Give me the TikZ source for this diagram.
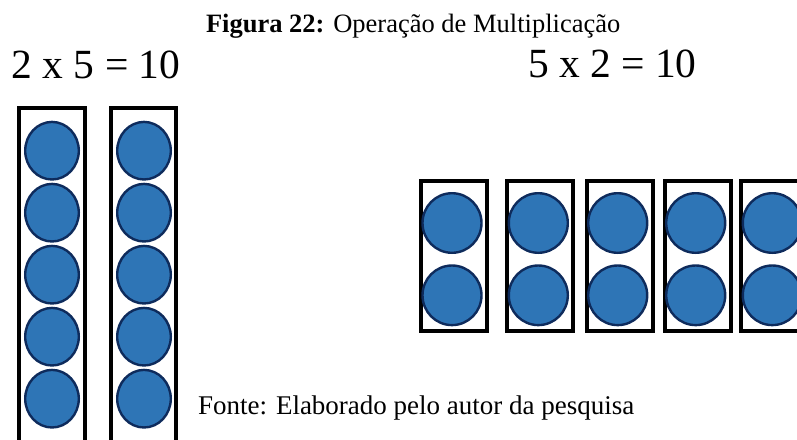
\documentclass[tikz,border=0pt]{standalone}
\usepackage{fontspec}
\setmainfont{Liberation Serif}
\definecolor{dotfill}{HTML}{2E75B6}
\definecolor{dotline}{HTML}{0E2B5C}
\begin{document}
\begin{tikzpicture}[x=1pt,y=-1pt,
  box/.style={draw=black,line width=4pt},
  dotsmall/.style={draw=dotline,fill=dotfill,line width=2.4pt,x radius=26.8pt,y radius=28.8pt},
  dotbig/.style={draw=dotline,fill=dotfill,line width=2.4pt,x radius=29.5pt,y radius=29.8pt},
  lbl/.style={anchor=base west,inner sep=0pt,outer sep=0pt}]
\useasboundingbox (0,0) rectangle (797,439);
\clip (0,0) rectangle (797,439);
% title
\node[lbl] (title) at (206,32) {\fontsize{26.5}{30}\selectfont\textbf{Figura 22:} Operação de Multiplicação};
\node[lbl] (eqA) at (11.7,78) {\fontsize{41.5}{48}\selectfont 2 x 5 = 10};
\node[lbl] (eqB) at (528,77) {\fontsize{41.5}{48}\selectfont 5 x 2 = 10};
\node[lbl] (src) at (198,414) {\fontsize{27}{31}\selectfont Fonte: Elaborado pelo autor da pesquisa};
% left columns
\draw[box] (19.3,470) -- (19.3,107.7) -- (85,107.7) -- (85,470);
\draw[box] (111.3,470) -- (111.3,107.7) -- (176.3,107.7) -- (176.3,470);
\foreach \k in {0,...,4}{
  \path[dotsmall] (52,150.7+62*\k) ellipse [];
  \path[dotsmall] (144,150.7+62*\k) ellipse [];
}
% right columns
\foreach \a/\b in {421.3/486.7,507.3/572.7,587.3/652.7,665.3/731.3,741.3/806.7}{
  \draw[box] (\a,180.7) rectangle (\b,331.3);
}
\foreach \cx in {452,538.3,617.7,695.7,772.3}{
  \path[dotbig] (\cx,223) ellipse [];
  \path[dotbig] (\cx,295.3) ellipse [];
}
\end{tikzpicture}
\end{document}
